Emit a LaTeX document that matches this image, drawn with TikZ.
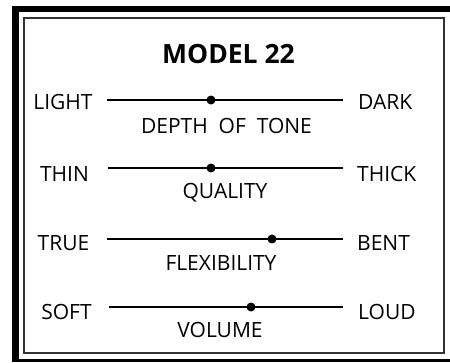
\documentclass[tikz,border=0pt]{standalone}
\usepackage{fontspec}
\setmainfont{Open Sans}
\begin{document}
\begin{tikzpicture}[
        x = 1pt, y = -1pt,
        lbl/.style = {font=\fontsize{21}{24}\selectfont, inner sep=0pt},
        title/.style = {font=\bfseries\fontsize{26.5}{30}\selectfont, inner sep=0pt},
        knob/.style = {circle, fill=black, inner sep=0pt, minimum size=9pt},
        bar/.style = {line width=2pt},
        frame/.style = {fill=black},
        panel/.style = {draw=black!80, line width=1.3pt}
    ]
    \useasboundingbox (0,0) rectangle (450,362);
    %--- Draw Frame ---%
        \fill[frame] (12,6) rectangle (19,362);
        \fill[frame] (12,6) rectangle (450,12);
        \fill[frame] (12,359) rectangle (450,362);
        \draw[panel] (24,18) rectangle (444,353);
    %--- Draw Title ---%
        \node (model) [title, anchor=base] at (228.5,63) {MODEL 22};
    %--- Draw Tone ---%
        \node (light) [lbl, anchor=base] at (63,109) {LIGHT};
        \node (dark) [lbl, anchor=base west] at (358,109) {DARK};
        \coordinate (l1) at (107,100);
        \coordinate (r1) at (343,100);
        \draw[bar] (l1) -- (r1);
        \node (k1) [knob] at (211,100) {};
        \node (tone) [lbl, anchor=base] at (226.5,133) {DEPTH\ \ OF\ \ TONE};
    %--- Draw Quality ---%
        \node (thin) [lbl, anchor=base] at (64.5,181) {THIN};
        \node (thick) [lbl, anchor=base west] at (357,181) {THICK};
        \coordinate (l2) at (108,168);
        \coordinate (r2) at (343,168);
        \draw[bar] (l2) -- (r2);
        \node (k2) [knob] at (211,168) {};
        \node (quality) [lbl, anchor=base] at (225,198) {QUALITY};
    %--- Draw Flexibility ---%
        \node (true) [lbl, anchor=base] at (63.5,250) {TRUE};
        \node (bent) [lbl, anchor=base west] at (357,250) {BENT};
        \coordinate (l3) at (107,239);
        \coordinate (r3) at (343,239);
        \draw[bar] (l3) -- (r3);
        \node (k3) [knob] at (272,239) {};
        \node (flex) [lbl, anchor=base] at (221,270) {FLEXIBILITY};
    %--- Draw Volume ---%
        \node (soft) [lbl, anchor=base] at (66.5,319) {SOFT};
        \node (loud) [lbl, anchor=base west] at (358,319) {LOUD};
        \coordinate (l4) at (109,307);
        \coordinate (r4) at (343,307);
        \draw[bar] (l4) -- (r4);
        \node (k4) [knob] at (251,307) {};
        \node (volume) [lbl, anchor=base] at (220,337) {VOLUME};
\end{tikzpicture}
\end{document}
